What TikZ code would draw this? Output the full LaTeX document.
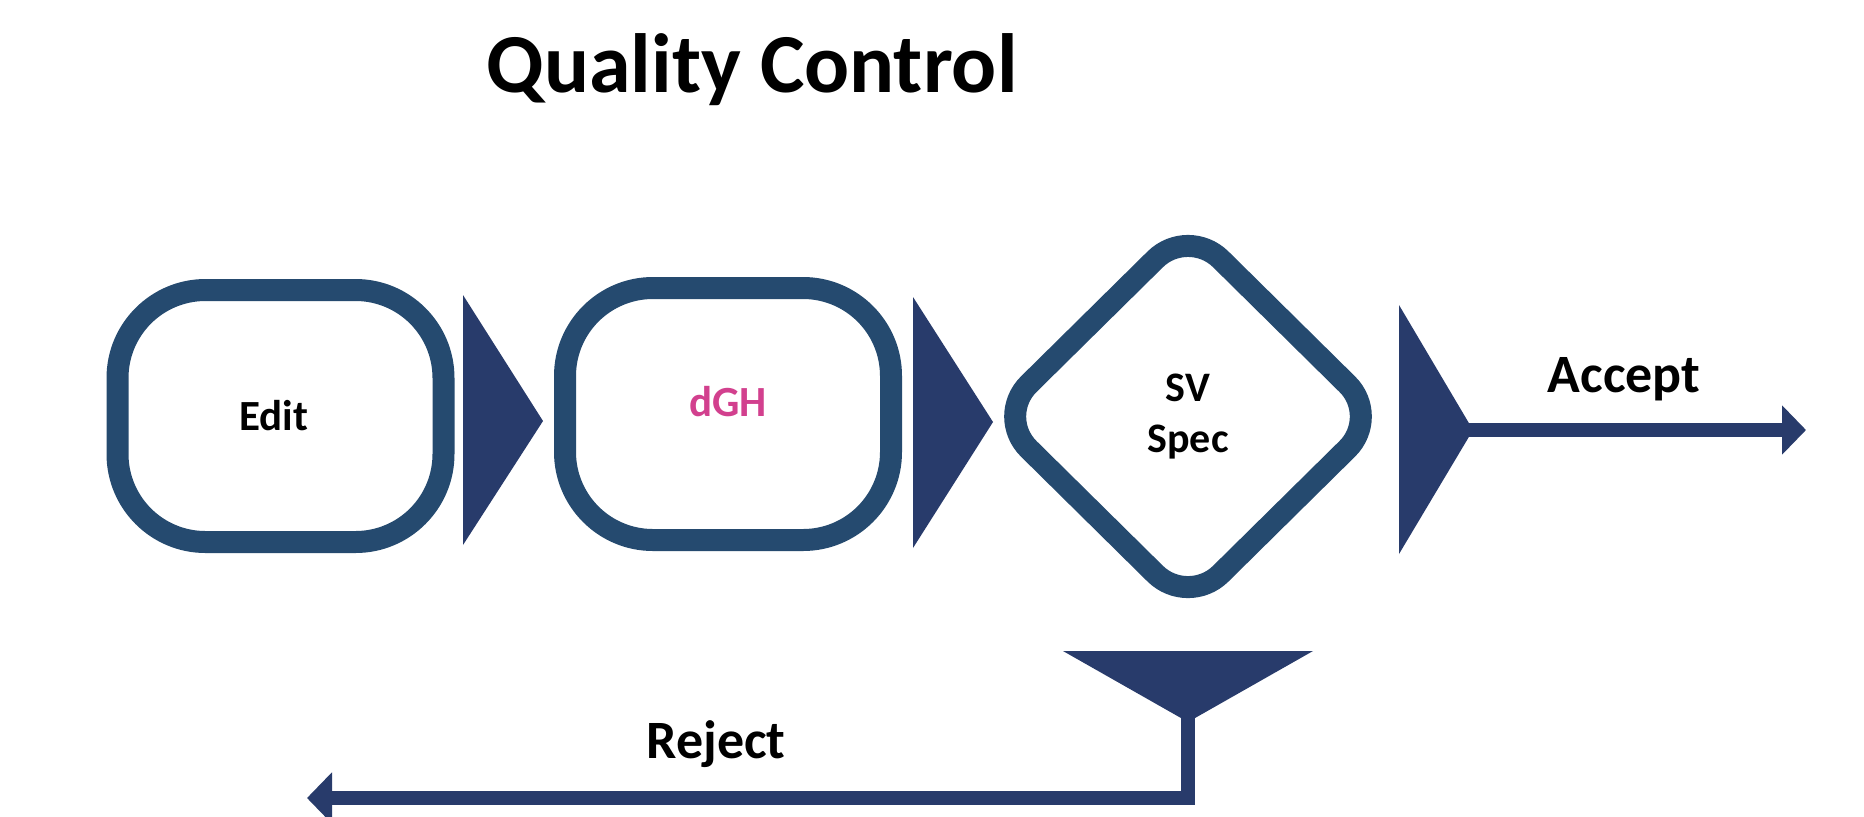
\documentclass[tikz,border=0pt]{standalone}
\usepackage{fontspec}
\setmainfont{Carlito}
\usetikzlibrary{shapes.geometric,arrows.meta,calc}
\definecolor{boxblue}{HTML}{254A6F}
\definecolor{navy}{HTML}{283B6B}
\definecolor{dghpink}{HTML}{D2408E}
\begin{document}
\begin{tikzpicture}[x=0.5pt,y=-0.5pt,
  procbox/.style={minimum width=163pt, minimum height=126pt, inner sep=0pt, outer sep=0pt,
    font=\bfseries\fontsize{21.5}{26}\selectfont},
  decbox/.style={diamond, minimum width=192pt, minimum height=189.5pt, inner sep=0pt,
    outer sep=0pt, align=center, font=\bfseries\fontsize{21}{25.5}\selectfont},
  boxring/.style={fill=boxblue, even odd rule},
  decline/.style={draw=boxblue, line width=11pt, rounded corners=23pt, line join=round},
  flowtri/.style={fill=navy},
  conn/.style={draw=navy, line width=7pt},
  lbl/.style={font=\bfseries\fontsize{27}{32}\selectfont, anchor=base, inner sep=0pt}]
\fill[white] (0,0) rectangle (1864,816);
\useasboundingbox (0,0) rectangle (1864,816);

\node[anchor=base, inner sep=0pt, font=\bfseries\fontsize{42}{50}\selectfont] (title) at (752,92) {Quality Control};

\node[procbox] (edit) at (280.5,416) {\hspace*{-7pt}Edit};
\fill[boxring] [rounded corners=49.5pt] ([shift={(-5.5pt,-5.5pt)}]edit.south west) rectangle ([shift={(5.5pt,5.5pt)}]edit.north east)
  [rounded corners=38.5pt] ([shift={(5.5pt,5.5pt)}]edit.south west) rectangle ([shift={(-5.5pt,-5.5pt)}]edit.north east);
\node[procbox, text=dghpink] (dgh) at (728,414) {\raisebox{6pt}[\height][\depth]{dGH}};
\fill[boxring] [rounded corners=49.5pt] ([shift={(-5.5pt,-5.5pt)}]dgh.south west) rectangle ([shift={(5.5pt,5.5pt)}]dgh.north east)
  [rounded corners=38.5pt] ([shift={(5.5pt,5.5pt)}]dgh.south west) rectangle ([shift={(-5.5pt,-5.5pt)}]dgh.north east);
\node[decbox] (sv) at (1188,416.5) {SV\\Spec};
\draw[decline] ($(sv.north)!0.5!(sv.east)$) -- (sv.east) -- (sv.south) -- (sv.west) -- (sv.north) -- cycle;

% flow triangles
\coordinate (t1tip) at (543,421);
\fill[flowtri] (463,295) -- (463,545) -- (t1tip) -- cycle;
\coordinate (t2tip) at (993,422);
\fill[flowtri] (913,297) -- (913,548) -- (t2tip) -- cycle;
\coordinate (t3tip) at (1473,430);
\fill[flowtri] (1399,305) -- (1399,554) -- (t3tip) -- cycle;

% accept
\coordinate (acceptend) at (1806,430);
\draw[conn, -{Triangle[length=12pt,width=24pt]}] (1466,430) -- (acceptend);
\node[lbl] (accept) at (1624,392) {Accept};

% reject
\coordinate (ftip) at (1188,722);
\fill[flowtri] (1063,651) -- (1313,651) -- (ftip) -- cycle;
\coordinate (rejend) at (307,798);
\draw[conn, -{Triangle[length=12.5pt,width=25pt]}] (1188,712) |- (rejend);
\node[lbl] (reject) at (716,758) {Reject};
\end{tikzpicture}
\end{document}
